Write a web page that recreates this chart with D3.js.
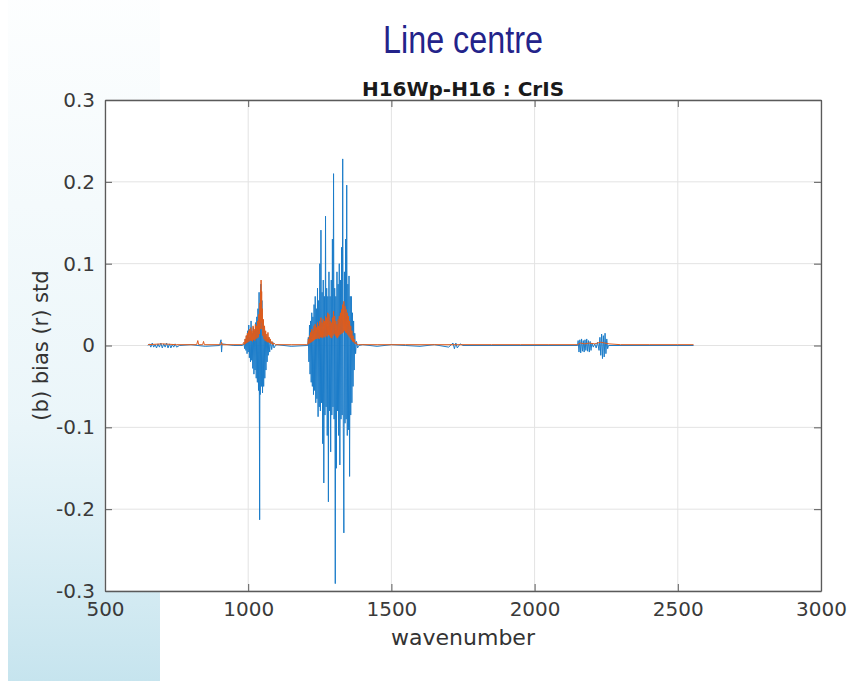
<!DOCTYPE html>
<html>
<head>
<meta charset="utf-8">
<script src="https://cdn.jsdelivr.net/npm/d3@7"></script>
<style>
  body { margin: 0; background: #fff; }
  svg { display: block; }
</style>
</head>
<body>
<script>
// tick values
var xTicks = [500, 1000, 1500, 2000, 2500, 3000];
var yTicks = [-0.3, -0.2, -0.1, 0, 0.1, 0.2, 0.3];

// bias (blue), [wavenumber, value]
var biasLW = [[650,0],[655,0.002],[660,-0.002],[665,0.003],[670,-0.002],[675,0.001],[680,-0.003],[685,0.002],[690,-0.002],[695,0.003],[700,-0.003],[705,0.002],[710,-0.002],[715,0.003],[720,-0.003],[725,0.002],[730,-0.003],[735,0.001],[740,-0.002],[745,0.002],[750,-0.002],[760,0],[800,0.001],[850,-0.001],[900,0],[905,0.007],[907,-0.008],[909,0.002],[950,0],[980,0],
  [985,0.002],[988,-0.004],[990,0.008],[992,-0.006],[994,0.012],[996,-0.010],[998,0.018],[1000,-0.008],[1002,0.025],[1004,-0.015],[1006,0.010],[1008,-0.020],[1010,0.030],[1012,-0.018],[1014,0.015],[1016,-0.028],[1018,0.022],[1020,-0.035],[1022,0.018],[1024,-0.030],[1026,0.028],[1028,-0.040],[1030,0.035],[1032,-0.045],[1034,0.045],[1036,-0.055],[1038,0.065],[1040,-0.213],[1041,0.020],[1042,-0.060],[1044,0.075],[1046,-0.050],[1048,0.055],[1050,-0.058],[1052,0.030],[1054,-0.050],[1056,0.020],[1058,-0.040],[1060,0.012],[1062,-0.030],[1064,0.010],[1066,-0.020],[1068,0.008],[1070,-0.012],[1072,0.010],[1075,-0.008],[1078,0.006],[1082,-0.005],[1086,0.004],[1090,-0.003],[1095,0],[1100,0.001],[1150,-0.001],[1205,0]];
var biasMW = [[1208,0],[1210,0.010],[1212,-0.020],[1214,0.025],[1216,-0.035],[1218,0.030],[1220,-0.045],[1222,0.040],[1224,-0.050],[1226,0.035],[1228,-0.060],[1230,0.050],[1232,-0.055],[1234,0.060],[1236,-0.070],[1238,0.045],[1240,-0.065],[1242,0.070],[1244,-0.087],[1246,0.055],[1248,-0.075],[1250,0.100],[1252,-0.080],[1254,0.141],[1256,-0.070],[1258,0.065],[1260,-0.120],[1262,0.080],[1264,-0.168],[1266,0.060],[1268,-0.085],[1270,0.158],[1272,-0.075],[1274,0.070],[1276,-0.110],[1278,0.060],[1280,-0.191],[1282,0.090],[1284,-0.080],[1286,0.060],[1288,-0.130],[1290,0.080],[1292,-0.085],[1294,0.130],[1296,-0.075],[1298,0.210],[1300,-0.090],[1302,0.070],[1304,-0.291],[1306,0.060],[1308,-0.150],[1310,0.090],[1312,-0.080],[1314,0.075],[1316,-0.110],[1318,0.100],[1320,-0.146],[1322,0.080],[1324,-0.090],[1326,0.120],[1328,-0.085],[1330,0.228],[1332,-0.100],[1334,-0.229],[1336,0.090],[1338,-0.095],[1340,0.130],[1342,-0.090],[1344,0.196],[1346,-0.110],[1348,0.075],[1350,-0.103],[1352,0.085],[1354,-0.160],[1356,0.060],[1358,-0.085],[1360,0.060],[1362,-0.070],[1364,0.040],[1366,-0.050],[1368,0.030],[1370,-0.030],[1372,0.015],[1375,-0.010],[1378,0.005],[1382,-0.003],[1386,0],
  [1400,0.001],[1450,-0.001],[1500,0.001],[1550,0],[1600,-0.001],[1650,0.001],[1700,-0.002],[1715,0.003],[1720,-0.004],[1725,0.003],[1730,-0.003],[1740,0.002],[1750,0]];
var biasSW = [[2150,0],[2152,0.006],[2155,-0.008],[2158,0.007],[2161,-0.009],[2164,0.008],[2167,-0.007],[2170,0.006],[2173,-0.008],[2176,0.007],[2179,-0.006],[2182,0.008],[2185,-0.007],[2188,0.006],[2191,-0.008],[2194,0.005],[2197,-0.006],[2200,0.003],[2205,-0.002],[2210,0.002],[2215,-0.003],[2220,0.004],[2225,-0.006],[2228,0.010],[2231,-0.012],[2234,0.014],[2237,-0.016],[2240,0.012],[2243,-0.014],[2246,0.015],[2249,-0.010],[2252,0.008],[2255,-0.004],[2258,0],[2555,0]];

// std (orange), [wavenumber, value]
var stdLW = [[650,0.001],[700,0.002],[750,0.001],[800,0.001],[820,0.001],[824,0.006],[827,0.001],[841,0.001],[844,0.005],[847,0.001],[905,0.001],[907,0.004],[909,0.001],[980,0.001],
  [985,0.004],[987,0.001],[989,0.008],[991,0.002],[993,0.012],[995,0.003],[997,0.015],[999,0.004],[1001,0.018],[1003,0.005],[1005,0.020],[1007,0.006],[1009,0.022],[1011,0.006],[1013,0.018],[1015,0.005],[1017,0.024],[1019,0.007],[1021,0.020],[1023,0.006],[1025,0.026],[1027,0.008],[1029,0.024],[1031,0.009],[1033,0.030],[1035,0.010],[1037,0.038],[1039,0.014],[1041,0.052],[1042,0.020],[1043,0.068],[1044,0.030],[1045,0.080],[1046,0.028],[1047,0.066],[1048,0.020],[1049,0.045],[1051,0.012],[1053,0.032],[1055,0.008],[1057,0.024],[1059,0.006],[1061,0.018],[1063,0.005],[1065,0.014],[1067,0.004],[1069,0.016],[1071,0.004],[1073,0.010],[1075,0.003],[1077,0.008],[1080,0.002],[1083,0.005],[1086,0.001],[1090,0.003],[1095,0.001],[1150,0.001],[1205,0.001]];
var stdMW = [[1208,0.001],[1210,0.008],[1212,0.002],[1214,0.012],[1216,0.003],[1218,0.016],[1220,0.004],[1222,0.020],[1224,0.005],[1226,0.018],[1228,0.006],[1230,0.024],[1232,0.007],[1234,0.026],[1236,0.008],[1238,0.022],[1240,0.008],[1242,0.028],[1244,0.009],[1246,0.024],[1248,0.008],[1250,0.030],[1252,0.010],[1254,0.034],[1256,0.010],[1258,0.028],[1260,0.009],[1262,0.032],[1264,0.011],[1266,0.030],[1268,0.010],[1270,0.036],[1272,0.012],[1274,0.034],[1276,0.011],[1278,0.040],[1280,0.013],[1282,0.038],[1284,0.012],[1286,0.030],[1288,0.010],[1290,0.028],[1292,0.009],[1294,0.034],[1296,0.012],[1298,0.042],[1300,0.014],[1302,0.036],[1304,0.012],[1306,0.030],[1308,0.010],[1310,0.026],[1312,0.009],[1314,0.032],[1316,0.011],[1318,0.036],[1320,0.013],[1322,0.040],[1324,0.014],[1326,0.044],[1328,0.015],[1330,0.050],[1332,0.016],[1334,0.054],[1336,0.018],[1338,0.048],[1340,0.016],[1342,0.044],[1344,0.015],[1346,0.040],[1348,0.013],[1350,0.036],[1352,0.011],[1354,0.030],[1356,0.009],[1358,0.024],[1360,0.007],[1362,0.018],[1364,0.005],[1366,0.012],[1368,0.004],[1370,0.008],[1373,0.002],[1376,0.004],[1380,0.001],[1386,0.001]];
var stdSW = [[1450,0.001],[1550,0.001],[1650,0.001],[1750,0.001],[1850,0.001],[1950,0.001],[2050,0.001],[2150,0.001],[2160,0.003],[2175,0.002],[2190,0.003],[2210,0.002],[2230,0.004],[2245,0.003],[2260,0.002],[2300,0.001],[2400,0.001],[2500,0.001],[2555,0.001]];

var bias = biasLW.concat(biasMW, biasSW);
var std = stdLW.concat(stdMW, stdSW);

var W = 859, H = 681;
var margin = {top: 100, right: 38, bottom: 90, left: 105},
    width = W - margin.left - margin.right,
    height = H - margin.top - margin.bottom;

var svg = d3.select("body")
  .append("svg")
    .attr("width", W)
    .attr("height", H);

// light blue wash at bottom left of the slide
var defs = svg.append("defs");
var grad = defs.append("linearGradient")
    .attr("id", "wash").attr("x1", 0).attr("y1", 0).attr("x2", 0).attr("y2", 1);
grad.append("stop").attr("offset", "0%").attr("stop-color", "#d3ebf3").attr("stop-opacity", 0.05);
grad.append("stop").attr("offset", "60%").attr("stop-color", "#d3ebf3").attr("stop-opacity", 0.45);
grad.append("stop").attr("offset", "100%").attr("stop-color", "#c6e4ee").attr("stop-opacity", 1);
svg.append("rect")
    .attr("x", 8).attr("y", 0).attr("width", 152).attr("height", H)
    .attr("fill", "url(#wash)");

var g = svg.append("g")
    .attr("transform", "translate(" + margin.left + "," + margin.top + ")");

var x = d3.scaleLinear().domain([500, 3000]).range([0, width]);
var y = d3.scaleLinear().domain([-0.3, 0.3]).range([height, 0]);

g.append("rect")
    .attr("width", width).attr("height", height)
    .attr("fill", "#fff");

// grid
g.append("g")
  .selectAll("line.gx")
  .data(xTicks)
  .enter().append("line")
    .attr("x1", function(d) { return x(d); })
    .attr("x2", function(d) { return x(d); })
    .attr("y1", 0).attr("y2", height)
    .attr("stroke", "#e3e3e3").attr("stroke-width", 1);
g.append("g")
  .selectAll("line.gy")
  .data(yTicks)
  .enter().append("line")
    .attr("y1", function(d) { return y(d); })
    .attr("y2", function(d) { return y(d); })
    .attr("x1", 0).attr("x2", width)
    .attr("stroke", "#e3e3e3").attr("stroke-width", 1);

// lines
var line = d3.line()
    .x(function(d) { return x(d[0]); })
    .y(function(d) { return y(d[1]); });

g.append("path")
    .datum(bias)
    .attr("d", line)
    .attr("fill", "none")
    .attr("stroke", "#1b7cc9")
    .attr("stroke-width", 1);

g.append("path")
    .datum(std)
    .attr("d", line)
    .attr("fill", "none")
    .attr("stroke", "#dd5c1e")
    .attr("stroke-width", 1);

// axes (ticks inside, like matlab)
var yFmt = function(d) { return d === 0 ? "0" : d3.format(".1f")(d).replace("\u2212", "-"); };
var xFmt = function(d) { return String(d); };
g.append("g")
    .attr("transform", "translate(0," + height + ")")
    .call(d3.axisBottom(x).tickValues(xTicks).tickFormat(xFmt).tickSizeInner(-7).tickSizeOuter(0).tickPadding(11));
g.append("g")
    .call(d3.axisLeft(y).tickValues(yTicks).tickFormat(yFmt).tickSizeInner(-7).tickSizeOuter(0).tickPadding(10));
g.append("g")
    .call(d3.axisTop(x).tickValues(xTicks).tickSizeInner(-7).tickSizeOuter(0).tickFormat(""));
g.append("g")
    .attr("transform", "translate(" + width + ",0)")
    .call(d3.axisRight(y).tickValues(yTicks).tickSizeInner(-7).tickSizeOuter(0).tickFormat(""));

g.selectAll(".domain").attr("stroke", "#5a5a5a").attr("stroke-width", 1.3);
g.selectAll(".tick line").attr("stroke", "#5a5a5a");
g.selectAll(".tick text")
    .attr("fill", "#3a3a3a")
    .style("font-family", "'DejaVu Sans', sans-serif")
    .style("font-size", "20px");

// labels
svg.append("text")
    .attr("x", margin.left + width / 2)
    .attr("y", 645)
    .attr("text-anchor", "middle")
    .attr("fill", "#333")
    .style("font-family", "'DejaVu Sans', sans-serif")
    .style("font-size", "22px")
    .text("wavenumber");

svg.append("text")
    .attr("transform", "translate(48," + (margin.top + height / 2) + ")rotate(-90)")
    .attr("text-anchor", "middle")
    .attr("fill", "#333")
    .style("font-family", "'DejaVu Sans', sans-serif")
    .style("font-size", "21px")
    .text("(b) bias (r) std");

svg.append("text")
    .attr("x", margin.left + width / 2)
    .attr("y", 96)
    .attr("text-anchor", "middle")
    .attr("fill", "#1a1a1a")
    .style("font-family", "'DejaVu Sans', sans-serif")
    .style("font-weight", "bold")
    .style("font-size", "20px")
    .text("H16Wp-H16 : CrIS");

svg.append("text")
    .attr("x", 463)
    .attr("y", 53)
    .attr("text-anchor", "middle")
    .attr("fill", "#23238a")
    .attr("textLength", 160)
    .attr("lengthAdjust", "spacingAndGlyphs")
    .style("font-family", "'Liberation Sans', sans-serif")
    .style("font-size", "38px")
    .text("Line centre");
</script>
</body>
</html>
